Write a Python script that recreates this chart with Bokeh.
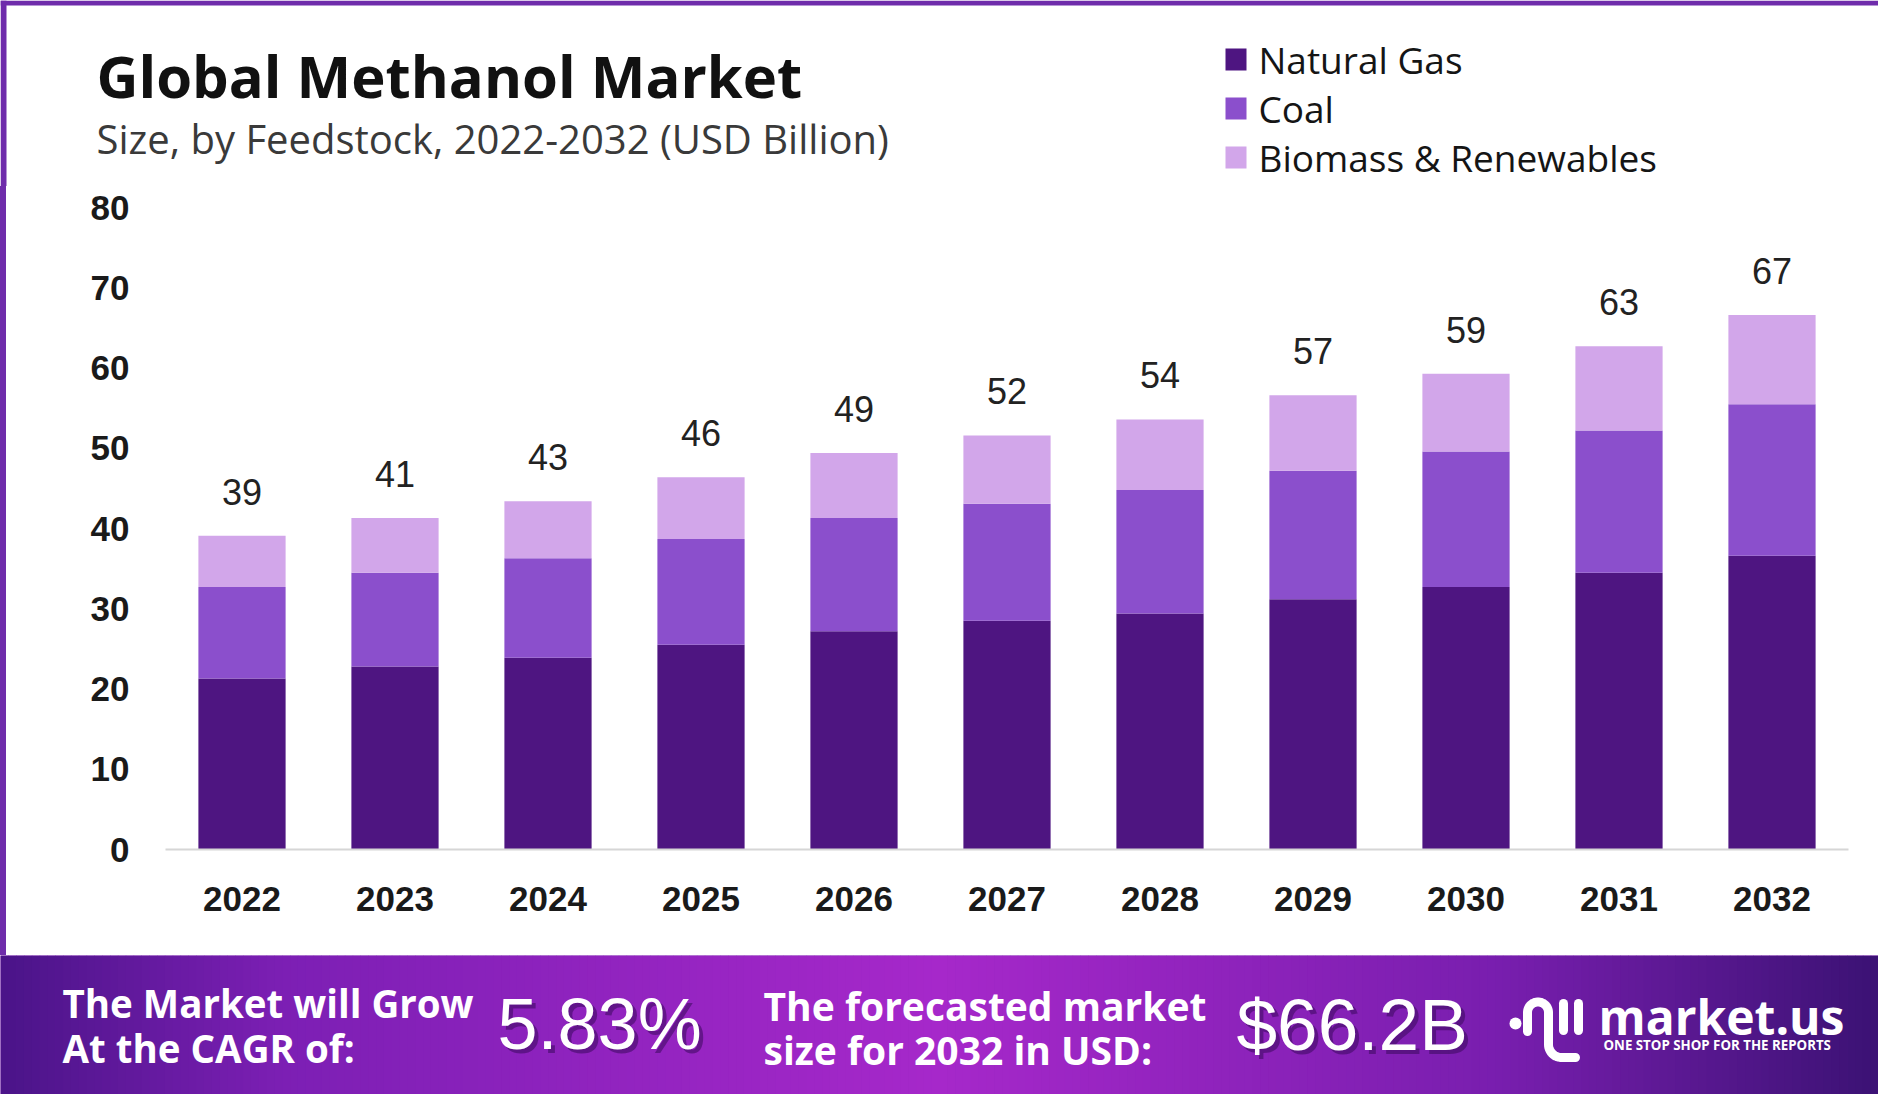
import numpy as np
from bokeh.plotting import figure
from bokeh.models import Range1d, FactorRange, FixedTicker, ColumnDataSource, Div
from bokeh.layouts import column, row
from bokeh.core.properties import value
from bokeh.embed import file_html
from bokeh.resources import INLINE

# ---------------- data ----------------
years = ["2022", "2023", "2024", "2025", "2026", "2027", "2028", "2029", "2030", "2031", "2032"]
natural_gas = [21.3, 22.8, 23.9, 25.5, 27.2, 28.5, 29.4, 31.2, 32.7, 34.5, 36.6]
coal = [11.4, 11.7, 12.4, 13.2, 14.1, 14.6, 15.4, 16.0, 16.9, 17.7, 18.9]
biomass = [6.4, 6.8, 7.1, 7.7, 8.1, 8.5, 8.8, 9.4, 9.7, 10.5, 11.1]
total_labels = ["39", "41", "43", "46", "49", "52", "54", "57", "59", "63", "67"]
series_names = ["Natural Gas", "Coal", "Biomass & Renewables"]
y_ticks = [0, 10, 20, 30, 40, 50, 60, 70, 80]

title_text = "Global Methanol Market"
subtitle_text = "Size, by Feedstock, 2022-2032 (USD Billion)"
cagr_lines = ["The Market will Grow", "At the CAGR of:"]
cagr_value = "5.83%"
forecast_lines = ["The forecasted market", "size for 2032 in USD:"]
forecast_value = "$66.2B"

colors = ["#4e1581", "#8b4fcc", "#d2a6ea"]
BORDER = "#6f2cab"

W, H = 1878, 1094
HDR_H = 186
FTR_TOP = 955
STRIP = 6

def blank(width, height, xr, yr, fill="white"):
    f = figure(width=width, height=height, x_range=xr, y_range=yr, title=None,
               toolbar_location=None, output_backend="svg", min_border=0,
               x_axis_location=None, y_axis_location=None, outline_line_color=None)
    f.grid.visible = False
    f.background_fill_color = fill
    f.border_fill_color = fill
    return f

# ---------------- header ----------------
hdr = blank(W, HDR_H, Range1d(0, W), Range1d(HDR_H, 0))
hdr.quad(left=[0], right=[W], top=[0], bottom=[5], color=BORDER, line_color=None)
hdr.quad(left=[0], right=[STRIP], top=[0], bottom=[HDR_H], color=BORDER, line_color=None)

hdr.text(x=[96], y=[75], text=[title_text], text_font=value("Open Sans"), text_font_style="bold",
         text_font_size="58px", text_color="#111111", text_baseline="middle", text_align="left")
hdr.text(x=[96], y=[138], text=[subtitle_text], text_font=value("Open Sans"),
         text_font_size="40px", text_color="#3a3a3a", text_baseline="middle", text_align="left")

leg_mid = [59, 108, 157]
for name, col, m in zip(series_names, colors, leg_mid):
    hdr.quad(left=[1225], right=[1246], top=[m - 11], bottom=[m + 11], color=col, line_color=None)
    hdr.text(x=[1258], y=[m], text=[name], text_font=value("Open Sans"), text_font_size="37px",
             text_color="#151515", text_baseline="middle", text_align="left")

# ---------------- chart ----------------
src = ColumnDataSource(dict(
    year=years, ng=natural_gas, coal=coal, bio=biomass,
    total=[a + b + c for a, b, c in zip(natural_gas, coal, biomass)],
    label=total_labels,
))

CH = FTR_TOP - HDR_H
p = figure(x_range=FactorRange(factors=years, range_padding=0), y_range=Range1d(0, 81),
           width=W - STRIP, height=CH, title=None, toolbar_location=None, output_backend="svg",
           min_border_left=165 - STRIP, min_border_right=30, min_border_top=199 - HDR_H,
           min_border_bottom=106, outline_line_color=None)
p.background_fill_color = "white"
p.border_fill_color = "white"
p.xgrid.visible = False
p.ygrid.visible = False

p.vbar_stack(["ng", "coal", "bio"], x="year", width=0.57, color=colors, line_color=None, source=src)
p.text(x="year", y="total", text="label", source=src, y_offset=-44,
       text_font=value("Liberation Sans"), text_font_size="36px", text_color="#222222",
       text_align="center", text_baseline="middle")

p.yaxis.ticker = FixedTicker(ticks=y_ticks)
for ax in (p.xaxis[0], p.yaxis[0]):
    ax.major_label_text_font = "Liberation Sans"
    ax.major_label_text_font_size = "35px"
    ax.major_label_text_font_style = "bold"
    ax.major_label_text_color = "#1a1a1a"
    ax.major_tick_line_color = None
    ax.minor_tick_line_color = None
p.yaxis.axis_line_color = None
p.yaxis.major_label_standoff = 30
p.xaxis.axis_line_color = "#d6d6d6"
p.xaxis.axis_line_width = 2
p.xaxis.major_label_standoff = 31

strip = Div(text="", width=STRIP, height=CH, margin=(0, 0, 0, 0),
            styles={"background-color": BORDER})

# ---------------- footer ----------------
FH = H - FTR_TOP
ftr = blank(W, FH, Range1d(0, W), Range1d(H, FTR_TOP), fill="#7a1fb0")

stops = [(0.0, (0x4a, 0x14, 0x88)), (0.15, (0x7c, 0x1f, 0xb4)), (0.5, (0xa6, 0x28, 0xca)),
         (0.8, (0x78, 0x1e, 0xae)), (1.0, (0x3b, 0x12, 0x74))]
n = 240
edges = np.linspace(0, W, n + 1)
cols = []
for i in range(n):
    t = (i + 0.5) / n
    for (t0, c0), (t1, c1) in zip(stops[:-1], stops[1:]):
        if t0 <= t <= t1:
            f = (t - t0) / (t1 - t0)
            rgb = [int(round(a + (b - a) * f)) for a, b in zip(c0, c1)]
            cols.append("#%02x%02x%02x" % tuple(rgb))
            break
ftr.quad(left=edges[:-1], right=edges[1:] + 0.6, top=FTR_TOP, bottom=H, color=cols, line_color=None)

def ftext(x, y, t, size, font="Open Sans", style="bold", color="white", alpha=1.0):
    ftr.text(x=[x], y=[y], text=[t], text_font=value(font), text_font_style=style,
             text_font_size=size, text_color=color, text_alpha=alpha,
             text_baseline="middle", text_align="left")

ftext(62, 1002, cagr_lines[0], "38.5px")
ftext(62, 1047, cagr_lines[1], "38.5px")
ftext(501, 1027, cagr_value, "72px", font="Liberation Sans", style="normal", color="#3a0a5c", alpha=0.55)
ftext(497, 1023, cagr_value, "72px", font="Liberation Sans", style="normal")
ftext(763, 1005, forecast_lines[0], "39px")
ftext(763, 1049, forecast_lines[1], "39px")
ftext(1240, 1028, forecast_value, "73px", font="Liberation Sans", style="normal", color="#3a0a5c", alpha=0.55)
ftext(1236, 1024, forecast_value, "73px", font="Liberation Sans", style="normal")

# logo
ftr.scatter(x=[1515], y=[1023], size=12, color="white", line_color=None)
th = np.linspace(np.pi, 0, 30)
ax_ = [1527, 1527] + list(1537.5 + 10.5 * np.cos(th)) + [1548]
ay_ = [1031, 1012] + list(1012 - 10.5 * np.sin(th)) + [1044]
th2 = np.linspace(np.pi, np.pi / 2, 15)
ax_ += list(1561 + 13 * np.cos(th2)) + [1575]
ay_ += list(1044 + 13 * np.sin(th2)) + [1057]
ftr.line(ax_, ay_, line_color="white", line_width=9, line_cap="round", line_join="round")
ftr.segment(x0=[1563, 1578], y0=[1003, 1003], x1=[1563, 1578], y1=[1030, 1030],
            line_color="white", line_width=9, line_cap="round")
ftext(1598, 1016, "market.us", "48px")
ftext(1603, 1044, "ONE STOP SHOP FOR THE REPORTS", "13.3px")

layout = column(hdr, row(strip, p), ftr)
open("out.html", "w").write(file_html(layout, INLINE))
